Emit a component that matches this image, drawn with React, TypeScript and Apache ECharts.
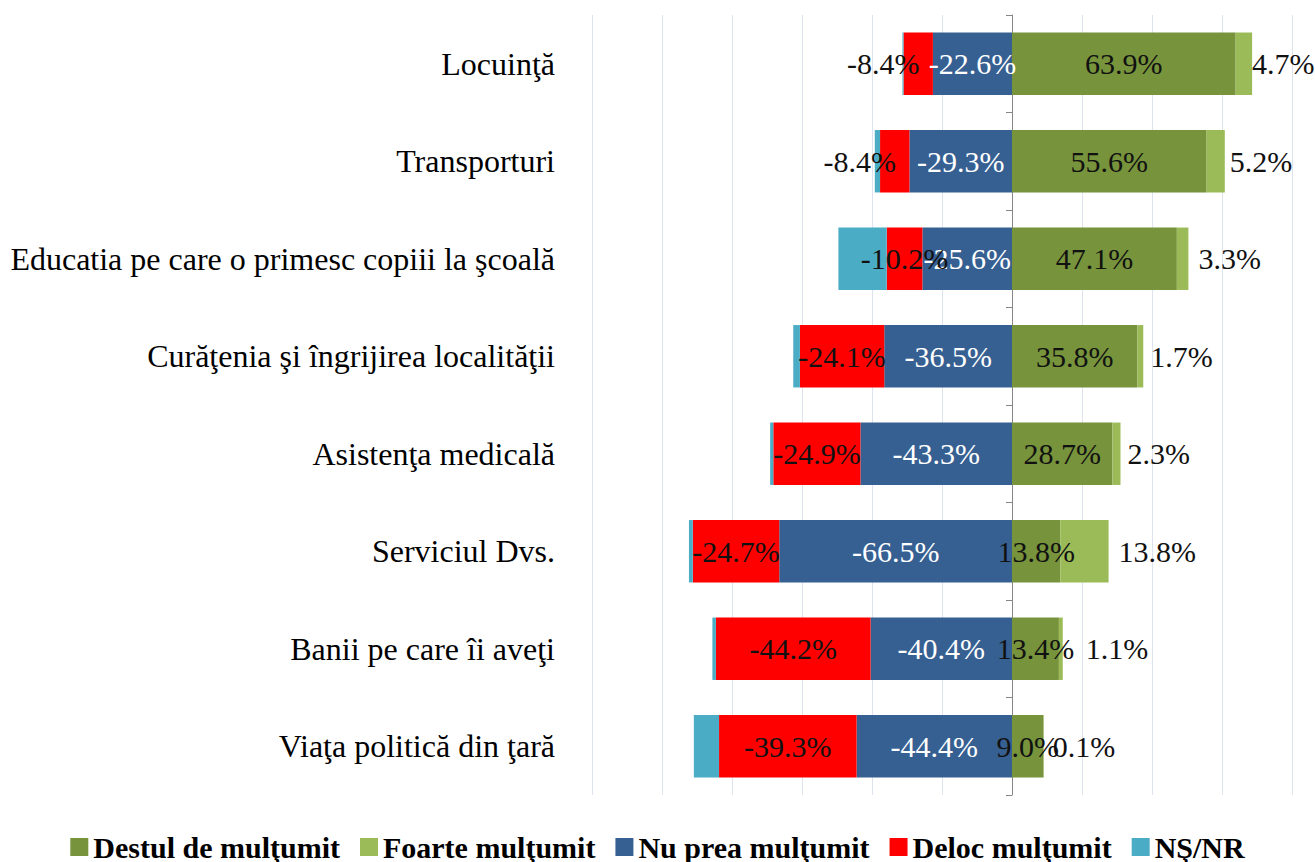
import React, { useEffect, useRef } from "react";
import * as echarts from "echarts";

const categories = [
  "Locuinţă",
  "Transporturi",
  "Educatia pe care o primesc copiii la şcoală",
  "Curăţenia şi îngrijirea localităţii",
  "Asistenţa medicală",
  "Serviciul Dvs.",
  "Banii pe care îi aveţi",
  "Viaţa politică din ţară",
];

const seriesNames = [
  "Destul de mulţumit",
  "Foarte mulţumit",
  "Nu prea mulţumit",
  "Deloc mulţumit",
  "NŞ/NR",
];

const destul = [63.9, 55.6, 47.1, 35.8, 28.7, 13.8, 13.4, 9.0];
const foarte = [4.7, 5.2, 3.3, 1.7, 2.3, 13.8, 1.1, 0.1];
const nuPrea = [-22.6, -29.3, -25.6, -36.5, -43.3, -66.5, -40.4, -44.4];
const deloc = [-8.4, -8.4, -10.2, -24.1, -24.9, -24.7, -44.2, -39.3];
const nsnr = [-0.3, -1.5, -13.8, -1.9, -0.9, -1.1, -1.0, -7.2];

const xMin = -120;
const xMax = 80;
const xStep = 20;

const colors = ["#77933C", "#9BBB59", "#376092", "#FF0000", "#4BACC6"];
const FONT = "'Liberation Serif', 'Times New Roman', serif";

// label placement tweaks (style only)
const foarteLabelGap = [0, 5, 10, 7, 7, 10, 23, 9];
const delocLabelShift = [-35, -35, 0, 0, 0, 0, 0, 0];

const fmt = (p: any) => `${Number(p.value).toFixed(1)}%`;

export default function App() {
  const ref = useRef<HTMLDivElement>(null);

  useEffect(() => {
    if (!ref.current) return;
    const chart = echarts.init(ref.current, undefined, { renderer: "svg" });

    const baseLabel = {
      show: true,
      fontFamily: FONT,
      fontSize: 30,
      formatter: fmt,
    };

    const delocData = deloc.map((v, i) => ({
      value: v,
      label: { offset: [delocLabelShift[i], 0] },
    }));

    const foarteData = foarte.map((v, i) => ({
      value: v,
      label: { distance: foarteLabelGap[i] },
    }));

    const option: any = {
      animation: false,
      backgroundColor: "#ffffff",
      color: colors,
      grid: { left: 592, right: 23, top: 15, bottom: 67, containLabel: false },
      xAxis: {
        type: "value",
        min: xMin,
        max: xMax,
        interval: xStep,
        axisLabel: { show: false },
        axisLine: { show: false },
        axisTick: { show: false },
        splitLine: { show: true, lineStyle: { color: "#DCE3EF", width: 1 } },
      },
      yAxis: [
        {
          type: "category",
          data: categories,
          inverse: true,
          position: "left",
          axisLine: { show: false, onZero: false },
          axisTick: { show: false },
          axisLabel: {
            fontFamily: FONT,
            fontSize: 32,
            color: "#000000",
            margin: 37,
          },
        },
        {
          type: "category",
          data: categories,
          inverse: true,
          position: "left",
          axisLine: { show: true, onZero: true, lineStyle: { color: "#868686", width: 1 } },
          axisTick: { show: true, length: 6, lineStyle: { color: "#868686" } },
          axisLabel: { show: false },
          splitLine: { show: false },
        },
      ],
      legend: {
        bottom: -5,
        left: "center",
        icon: "rect",
        itemWidth: 18,
        itemHeight: 18,
        itemGap: 20,
        textStyle: {
          fontFamily: FONT,
          fontSize: 30,
          fontWeight: "bold",
          color: "#000000",
        },
        data: seriesNames,
      },
      series: [
        {
          name: seriesNames[0],
          type: "bar",
          stack: "total",
          barCategoryGap: "36%",
          data: destul,
          label: { ...baseLabel, position: "inside", color: "#111111" },
        },
        {
          name: seriesNames[1],
          type: "bar",
          stack: "total",
          data: foarteData,
          label: { ...baseLabel, position: "right", color: "#111111" },
        },
        {
          name: seriesNames[2],
          type: "bar",
          stack: "total",
          data: nuPrea,
          label: { ...baseLabel, position: "inside", color: "#ffffff" },
        },
        {
          name: seriesNames[3],
          type: "bar",
          stack: "total",
          data: delocData,
          label: { ...baseLabel, position: "inside", color: "#111111" },
        },
        {
          name: seriesNames[4],
          type: "bar",
          stack: "total",
          data: nsnr,
          label: { show: false },
        },
      ],
    };

    chart.setOption(option);
    return () => chart.dispose();
  }, []);

  return (
    <div
      ref={ref}
      style={{ position: "absolute", left: 0, top: 0, width: 1315, height: 862 }}
    />
  );
}
